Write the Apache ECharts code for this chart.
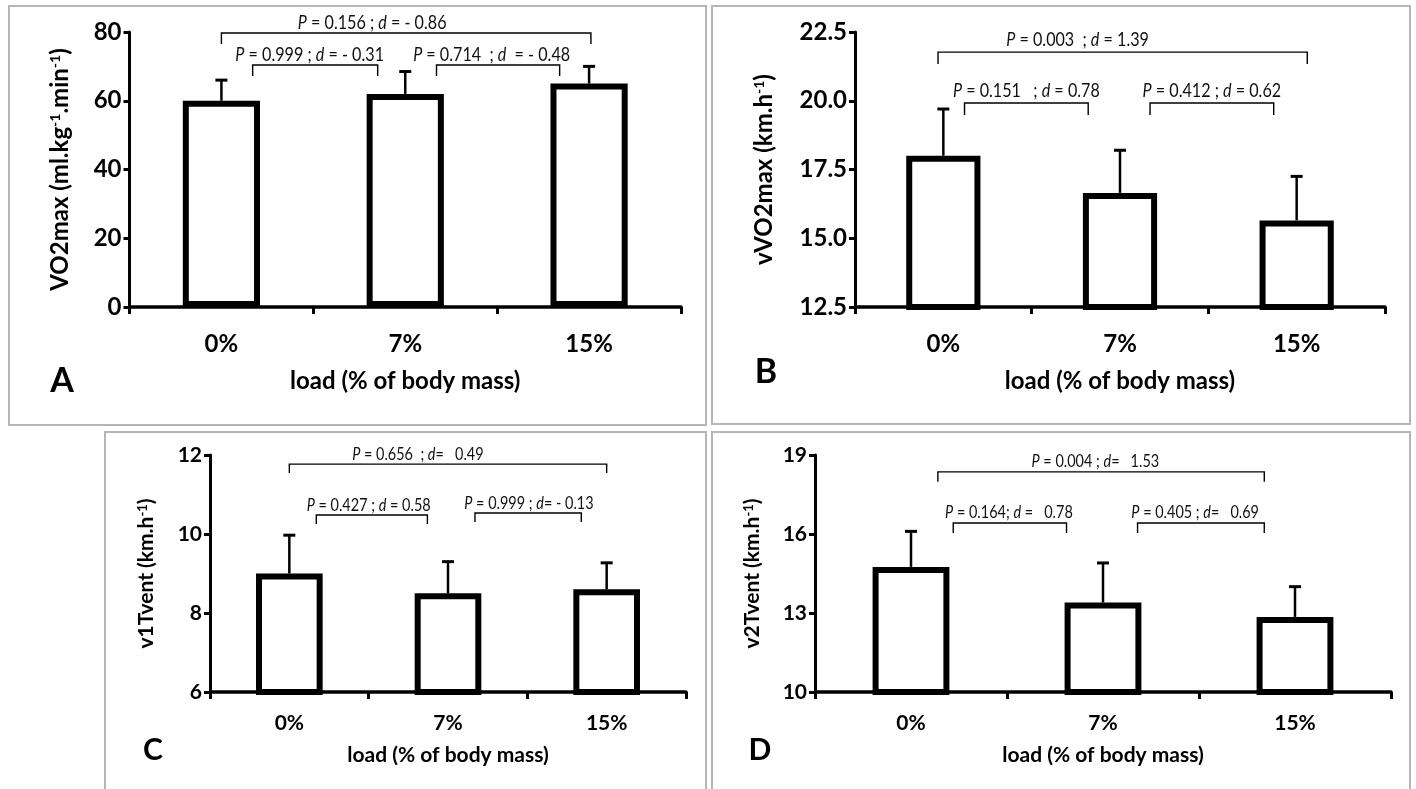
<!DOCTYPE html>
<html>
<head>
<meta charset="utf-8">
<script src="https://cdn.jsdelivr.net/npm/echarts@6/dist/echarts.min.js"></script>
<style>
  html, body { margin: 0; background: #fff; }
  #chart { width: 1416px; height: 789px; }
</style>
</head>
<body>
<div id="chart"></div>
<script>
const categories = ['0%', '7%', '15%'];

// A - VO2max (ml.kg-1.min-1)
const vo2maxMean = [60, 62, 65];
const vo2maxSd = [6, 6.5, 5];
const vo2maxTicks = [0, 80, 20];
// B - vVO2max (km.h-1)
const vvo2maxMean = [18.0, 16.65, 15.65];
const vvo2maxSd = [1.7, 1.55, 1.6];
const vvo2maxTicks = [12.5, 22.5, 2.5];
// C - v1Tvent (km.h-1)
const v1Mean = [9.0, 8.5, 8.6];
const v1Sd = [0.97, 0.8, 0.67];
const v1Ticks = [6, 12, 2];
// D - v2Tvent (km.h-1)
const v2Mean = [14.75, 13.4, 12.85];
const v2Sd = [1.35, 1.5, 1.15];
const v2Ticks = [10, 19, 3];

// comparisons: [from, to, level, label centre]  (category index, axis value)
const statsA = [[0, 2.01, 79.7, 0.82], [0.17, 0.85, 70.4, 0.48], [1.17, 1.84, 70.4, 1.47]];
const statsATxt = ['P = 0.156 ; d = - 0.86', 'P = 0.999 ; d = - 0.31', 'P = 0.714  ; d  = - 0.48'];
const statsB = [[-0.03, 2.06, 21.77, 0.76], [0.12, 0.82, 19.92, 0.47], [1.17, 1.87, 19.92, 1.52]];
const statsBTxt = ['P = 0.003  ; d = 1.39', 'P = 0.151   ; d = 0.78', 'P = 0.412 ; d = 0.62'];
const statsC = [[0, 2, 11.77, 0.81], [0.17, 0.87, 10.48, 0.5], [1.17, 1.84, 10.53, 1.51]];
const statsCTxt = ['P = 0.656  ; d=   0.49', 'P = 0.427 ; d = 0.58', 'P = 0.999 ; d= - 0.13'];
const statsD = [[0.14, 1.84, 18.36, 0.96], [0.22, 0.81, 16.42, 0.51], [1.18, 1.84, 16.42, 1.48]];
const statsDTxt = ['P = 0.004 ; d=   1.53', 'P = 0.164; d =   0.78', 'P = 0.405 ; d=   0.69'];

const FONT = 'Lato';

function xAxisFor(i, fs, margin, nameGap) {
  return {
    type: 'category', gridIndex: i, data: categories, boundaryGap: true, z: 3,
    axisLine: { onZero: false, lineStyle: { color: '#000', width: 3.5 } },
    axisTick: { show: true, length: 7, lineStyle: { color: '#000', width: 3 } },
    axisLabel: { color: '#000', fontSize: fs, fontWeight: 'bold', fontFamily: FONT, margin: margin },
    name: 'load (% of body mass)', nameLocation: 'middle', nameGap: nameGap, nameMoveOverlap: false,
    nameTextStyle: { color: '#000', fontSize: fs, fontWeight: 'bold', fontFamily: FONT }
  };
}

function yAxisFor(i, ticks, name, fs, nameGap, dec) {
  return {
    type: 'value', gridIndex: i, min: ticks[0], max: ticks[1], interval: ticks[2],
    axisLine: { show: true, lineStyle: { color: '#000', width: 3 } },
    axisTick: { show: true, length: 6, lineStyle: { color: '#000', width: 3 } },
    splitLine: { show: false },
    axisLabel: { color: '#000', fontSize: fs, fontWeight: 'bold', fontFamily: FONT, margin: 8,
      formatter: v => v.toFixed(dec) },
    name: name, nameLocation: 'middle', nameGap: nameGap, nameMoveOverlap: false,
    nameTextStyle: { color: '#000', fontSize: fs, fontWeight: 'bold', fontFamily: FONT,
      rich: { sup: { fontSize: Math.round(fs * 0.6), fontWeight: 'bold', fontFamily: FONT, verticalAlign: 'top' } } }
  };
}

function barSeries(i, mean, bw) {
  return {
    type: 'bar', xAxisIndex: i, yAxisIndex: i, data: mean, barWidth: bw,
    itemStyle: { color: '#fff', borderColor: '#000', borderWidth: 6 },
    silent: true, z: 2
  };
}

function errSeries(i, mean, sd) {
  return {
    type: 'custom', xAxisIndex: i, yAxisIndex: i, z: 3, silent: true,
    data: mean.map((m, k) => [k, m + sd[k]]),
    renderItem: function (params, api) {
      const k = params.dataIndex;
      const base = api.coord([k, mean[k]]);
      const top = api.coord([k, mean[k] + sd[k]]);
      return {
        type: 'group', children: [
          { type: 'line', shape: { x1: base[0], y1: base[1], x2: top[0], y2: top[1] },
            style: { stroke: '#000', lineWidth: 2.5 } },
          { type: 'line', shape: { x1: top[0] - 6, y1: top[1], x2: top[0] + 6, y2: top[1] },
            style: { stroke: '#000', lineWidth: 3 } }
        ]
      };
    }
  };
}

function statSeries(i, rows, texts, fs, tick, gap) {
  return {
    type: 'custom', xAxisIndex: i, yAxisIndex: i, z: 4, silent: true,
    data: rows.map(r => [0, r[2]]),
    renderItem: function (params, api) {
      const r = rows[params.dataIndex];
      const c0 = api.coord([0, r[2]]);
      const c1 = api.coord([1, r[2]]);
      const step = c1[0] - c0[0];
      const X = f => c0[0] + f * step;
      const y = c0[1];
      const txt = texts[params.dataIndex].replace('P', '{i|P}').replace(' d', ' {i|d}');
      return {
        type: 'group', children: [
          { type: 'polyline', shape: { points: [[X(r[0]), y + tick], [X(r[0]), y], [X(r[1]), y], [X(r[1]), y + tick]] },
            style: { stroke: '#000', lineWidth: 1.4, fill: null } },
          { type: 'text', x: X(r[3]), y: y - gap, scaleX: 0.85,
            style: { text: txt, x: 0, y: 0, align: 'center', verticalAlign: 'middle',
              fontSize: fs, fontFamily: FONT, fill: '#111',
              rich: { i: { fontStyle: 'italic', fontSize: fs, fontFamily: FONT, fill: '#111' } } } }
        ]
      };
    }
  };
}

function letter(t, x, y, fs) {
  return { type: 'text', x: x, y: y, style: { text: t, align: 'center', verticalAlign: 'middle',
    fontSize: fs, fontWeight: 'bold', fontFamily: FONT, fill: '#000' } };
}

function box(x, y, w, h) {
  return { type: 'rect', shape: { x: x, y: y, width: w, height: h },
    style: { fill: null, stroke: '#b5b5b5', lineWidth: 2 }, z: -1 };
}

const chart = echarts.init(document.getElementById('chart'), null, { renderer: 'canvas' });

chart.setOption({
  animation: false,
  backgroundColor: '#fff',
  grid: [
    { left: 129.5, top: 32, width: 551.5, height: 275, outerBoundsMode: 'none' },
    { left: 855, top: 32, width: 530, height: 275, outerBoundsMode: 'none' },
    { left: 210, top: 455, width: 476, height: 237, outerBoundsMode: 'none' },
    { left: 815, top: 455, width: 576, height: 237, outerBoundsMode: 'none' }
  ],
  xAxis: [
    xAxisFor(0, 24, 25, 62),
    xAxisFor(1, 24, 25, 62),
    xAxisFor(2, 21, 21, 53),
    xAxisFor(3, 21, 21, 53)
  ],
  yAxis: [
    yAxisFor(0, vo2maxTicks, 'VO2max (ml.kg{sup|-1}.min{sup|-1})', 24, 57, 0),
    yAxisFor(1, vvo2maxTicks, 'vVO2max (km.h{sup|-1})', 24, 79, 1),
    yAxisFor(2, v1Ticks, 'v1Tvent (km.h{sup|-1})', 21, 53, 0),
    yAxisFor(3, v2Ticks, 'v2Tvent (km.h{sup|-1})', 21, 52, 0)
  ],
  series: [
    barSeries(0, vo2maxMean, '42%'),
    errSeries(0, vo2maxMean, vo2maxSd),
    statSeries(0, statsA, statsATxt, 19, 11, 10),
    barSeries(1, vvo2maxMean, '42%'),
    errSeries(1, vvo2maxMean, vvo2maxSd),
    statSeries(1, statsB, statsBTxt, 19, 12, 12),
    barSeries(2, v1Mean, '42%'),
    errSeries(2, v1Mean, v1Sd),
    statSeries(2, statsC, statsCTxt, 17, 9, 10),
    barSeries(3, v2Mean, '40%'),
    errSeries(3, v2Mean, v2Sd),
    statSeries(3, statsD, statsDTxt, 17, 10, 10)
  ],
  graphic: [
    box(9, 6, 697, 419),
    box(712, 6, 698, 418),
    box(105, 432, 601, 362),
    box(712, 432, 698, 362),
    letter('A', 62, 381, 34),
    letter('B', 766, 372, 34),
    letter('C', 153, 750, 30),
    letter('D', 760, 750, 30)
  ]
});
</script>
</body>
</html>
